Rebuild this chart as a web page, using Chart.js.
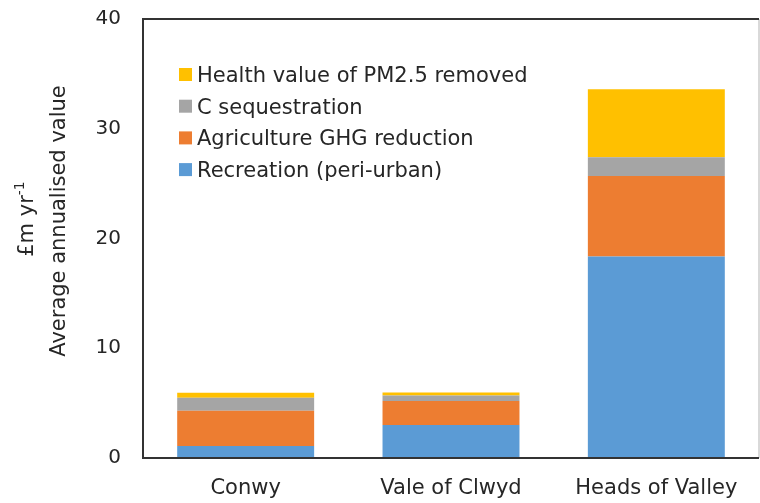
<!DOCTYPE html>
<html>
<head>
<meta charset="utf-8">
<script src="https://cdn.jsdelivr.net/npm/chart.js@4.4.0/dist/chart.umd.min.js"></script>
<style>
  html, body { margin: 0; padding: 0; background: #fff; }
  #wrap { width: 760px; height: 503px; }
</style>
</head>
<body>
<div id="wrap"><canvas id="chart"></canvas></div>
<script>
// data (£m per year)
const categories = ["Conwy", "Vale of Clwyd", "Heads of Valley"];
const recreation = [1.1, 3.0, 18.35];
const agriculture = [3.2, 2.2, 7.35];
const carbon = [1.2, 0.5, 1.7];
const health = [0.45, 0.27, 6.2];
const yTicks = [0, 10, 20, 30, 40];

const FONT = "'DejaVu Sans', sans-serif";
const TEXT = "#262626";
Chart.defaults.font.family = FONT;
Chart.defaults.color = TEXT;

// frame round the plot area
const frame = {
  id: "frame",
  afterDatasetsDraw(chart) {
    const a = chart.chartArea;
    const ctx = chart.ctx;
    ctx.save();
    ctx.lineWidth = 2;
    ctx.strokeStyle = "#d9d9d9";
    ctx.beginPath();
    ctx.moveTo(a.right, a.top);
    ctx.lineTo(a.right, a.bottom);
    ctx.stroke();
    ctx.strokeStyle = "#333";
    ctx.beginPath();
    ctx.moveTo(a.right, a.top);
    ctx.lineTo(a.left, a.top);
    ctx.lineTo(a.left, a.bottom);
    ctx.lineTo(a.right, a.bottom);
    ctx.stroke();
    ctx.restore();
  }
};

// legend sits inside the plot, top series first
const insideLegend = {
  id: "insideLegend",
  afterDraw(chart) {
    const ctx = chart.ctx;
    const sets = chart.data.datasets.slice().reverse();
    ctx.save();
    ctx.font = "21px " + FONT;
    ctx.textBaseline = "alphabetic";
    sets.forEach(function (ds, i) {
      const y = 74.5 + i * 31.7;
      ctx.fillStyle = ds.backgroundColor;
      ctx.fillRect(179, y - 6.5, 13, 13);
      ctx.fillStyle = TEXT;
      ctx.fillText(ds.label, 197, y + 7.3);
    });
    ctx.restore();
  }
};

// two line y title with a superscript
const yTitle = {
  id: "yTitle",
  afterDraw(chart) {
    const ctx = chart.ctx;
    ctx.save();
    ctx.fillStyle = TEXT;
    ctx.textBaseline = "alphabetic";

    ctx.save();
    ctx.translate(65, 221);
    ctx.rotate(-Math.PI / 2);
    ctx.font = "21px " + FONT;
    ctx.textAlign = "center";
    ctx.fillText("Average annualised value", 0, 0);
    ctx.restore();

    ctx.save();
    ctx.translate(33, 219);
    ctx.rotate(-Math.PI / 2);
    ctx.font = "21px " + FONT;
    const w1 = ctx.measureText("£m yr").width;
    ctx.font = "14px " + FONT;
    const w2 = ctx.measureText("-1").width;
    const x0 = -(w1 + w2) / 2;
    ctx.textAlign = "left";
    ctx.font = "21px " + FONT;
    ctx.fillText("£m yr", x0, 0);
    ctx.font = "14px " + FONT;
    ctx.fillText("-1", x0 + w1, -9);
    ctx.restore();

    ctx.restore();
  }
};

function barSet(label, data, color) {
  return {
    label: label,
    data: data,
    backgroundColor: color,
    borderWidth: 0,
    barPercentage: 0.667,
    categoryPercentage: 1.0
  };
}

const ctx = document.getElementById("chart").getContext("2d");
const myChart = new Chart(ctx, {
  type: "bar",
  data: {
    labels: categories,
    datasets: [
      barSet("Recreation (peri-urban)", recreation, "#5B9BD5"),
      barSet("Agriculture GHG reduction", agriculture, "#ED7D31"),
      barSet("C sequestration", carbon, "#A5A5A5"),
      barSet("Health value of PM2.5 removed", health, "#FFC000")
    ]
  },
  options: {
    responsive: true,
    maintainAspectRatio: false,
    animation: false,
    layout: { padding: { top: 19, right: 1, bottom: 0, left: 0 } },
    plugins: {
      legend: { display: false },
      tooltip: { enabled: false }
    },
    scales: {
      x: {
        stacked: true,
        grid: { display: false, drawTicks: false },
        border: { display: false },
        ticks: { padding: 18, color: TEXT, font: { size: 21 } },
        afterFit: function (s) {
          s.height = 45;
          s.paddingLeft = 0;
          s.paddingRight = 0;
        }
      },
      y: {
        stacked: true,
        min: 0,
        max: 40,
        grid: { display: false, drawTicks: false },
        border: { display: false },
        ticks: { padding: 22, color: TEXT, font: { size: 20 } },
        afterBuildTicks: function (s) {
          s.ticks = yTicks.map(function (v) { return { value: v }; });
        },
        afterFit: function (s) {
          s.width = 143;
          s.paddingTop = 0;
          s.paddingBottom = 0;
        }
      }
    }
  },
  plugins: [frame, insideLegend, yTitle]
});
</script>
</body>
</html>
